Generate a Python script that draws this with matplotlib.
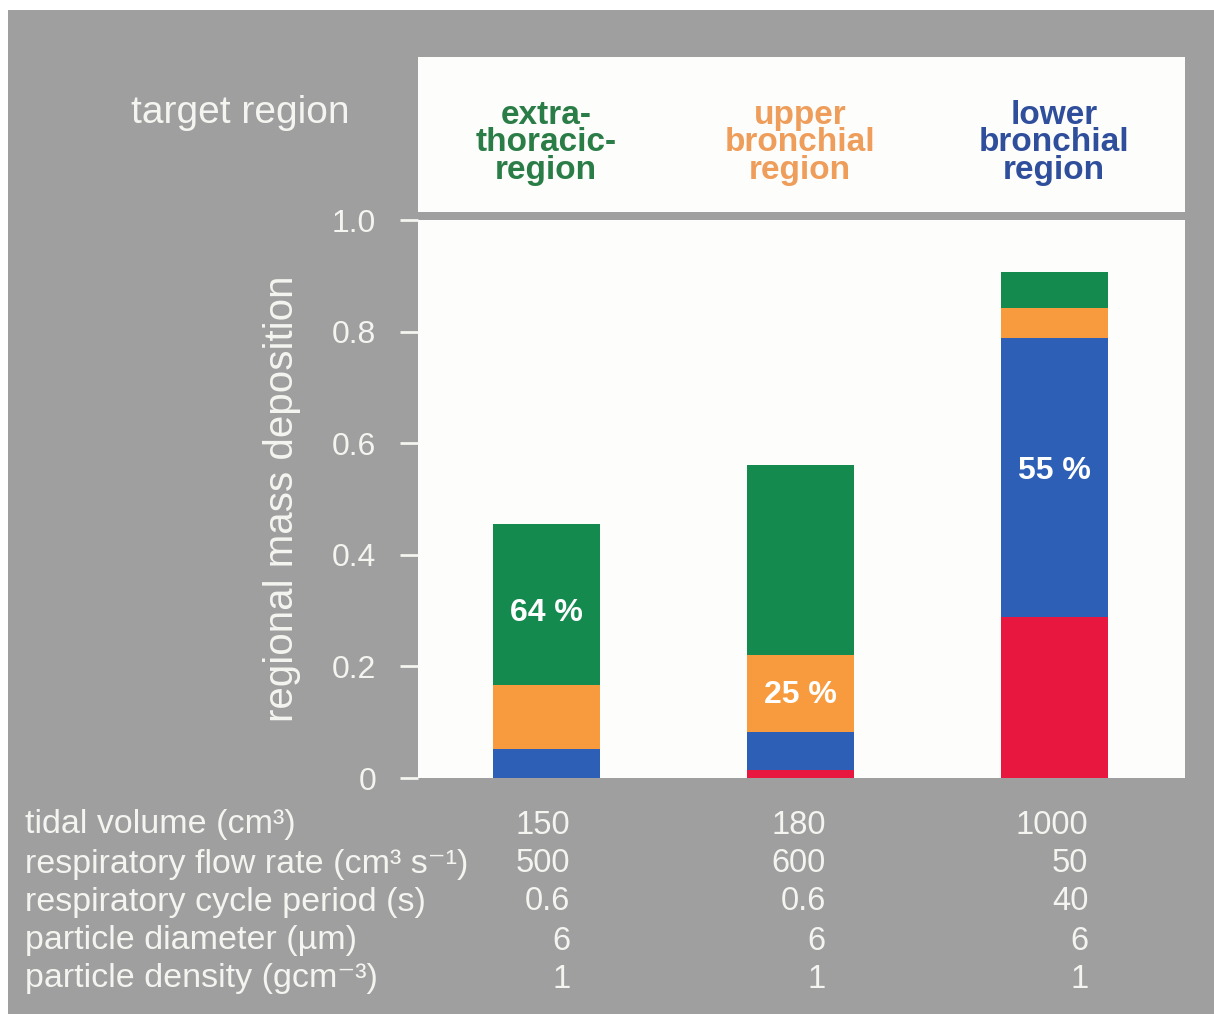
import matplotlib.pyplot as plt
from matplotlib.patches import Rectangle
from matplotlib.transforms import blended_transform_factory

plt.rcParams['font.family'] = ['Liberation Sans', 'DejaVu Sans']

# stacked deposition per target region (bottom to top)
regions = ['extra-\nthoracic-\nregion', 'upper\nbronchial\nregion', 'lower\nbronchial\nregion']
region_colors = ['#2a7d46', '#ee9d5a', '#2f4f9c']
red_part = [0.0, 0.015, 0.288]
blue_part = [0.052, 0.068, 0.500]
orange_part = [0.114, 0.138, 0.054]
green_part = [0.289, 0.340, 0.064]
pct_labels = ['64 %', '25 %', '55 %']
pct_y = [0.295, 0.148, 0.55]

row_labels = ['tidal volume (cm³)', 'respiratory flow rate (cm³ s⁻¹)',
              'respiratory cycle period (s)', 'particle diameter (µm)',
              'particle density (gcm⁻³)']
col_values = [['150', '500', '0.6', '6', '1'],
              ['180', '600', '0.6', '6', '1'],
              ['1000', '50', '40', '6', '1']]

gray = '#9f9f9f'
white_txt = '#f4f4f0'
W, H = 1214, 1014

fig = plt.figure(figsize=(W / 100, H / 100), dpi=100, facecolor='white')
# grey card (thin white border top/left like the scan)
fig.patches.append(Rectangle((8 / W, 0), 1, 1 - 10 / H, transform=fig.transFigure,
                             facecolor=gray, edgecolor='none', zorder=-10))
# white header panel
fig.patches.append(Rectangle((418 / W, 1 - 212 / H), 767 / W, 155 / H, transform=fig.transFigure,
                             facecolor='#fdfdfb', edgecolor='none', zorder=-5))

ax = fig.add_axes([418 / W, 1 - 778 / H, 767 / W, 558 / H])
ax.set_facecolor('#fdfdfb')
x = [0, 1, 2]
w = 0.42
b1 = red_part
b2 = [r + bl for r, bl in zip(red_part, blue_part)]
b3 = [a + o for a, o in zip(b2, orange_part)]
ax.bar(x, red_part, w, color='#e8173f')
ax.bar(x, blue_part, w, bottom=b1, color='#2c5fb5')
ax.bar(x, orange_part, w, bottom=b2, color='#f89b3e')
ax.bar(x, green_part, w, bottom=b3, color='#148a4f')

for xi, lab, yy in zip(x, pct_labels, pct_y):
    ax.text(xi, yy, lab, ha='center', va='center', color='white',
            fontsize=23, fontweight='bold')

ax.set_xlim(-0.505, 2.515)
ax.set_ylim(0, 1.0)
ax.set_xticks([])
ax.set_yticks([0, 0.2, 0.4, 0.6, 0.8, 1.0])
ax.set_yticklabels(['0', '0.2', '0.4', '0.6', '0.8', '1.0'])
ax.tick_params(axis='y', colors=white_txt, length=13, width=2, labelsize=23, pad=17)
for s in ax.spines.values():
    s.set_visible(False)
ax.set_ylabel('regional mass deposition', color=white_txt, fontsize=29, labelpad=22)

# header texts
fig.text(240 / W, 1 - 113 / H, 'target region', ha='center', va='center',
         color=white_txt, fontsize=28)
trans = blended_transform_factory(ax.transData, fig.transFigure)
for xi, lab, c in zip(x, regions, region_colors):
    ax.text(xi, 1 - 143 / H, lab, transform=trans, ha='center', va='center',
            color=c, fontsize=24, fontweight='bold', linespacing=0.86)

# parameter table below the plot
row_y = [825, 864, 902, 941, 979]
col_right = [0.095, 0.1, 0.135]
for ry, lab in zip(row_y, row_labels):
    fig.text(25 / W, 1 - ry / H, lab, ha='left', va='center', color=white_txt, fontsize=24.5)
for xi, vals, off in zip(x, col_values, col_right):
    for ry, v in zip(row_y, vals):
        ax.text(xi + off, 1 - ry / H, v, transform=trans, ha='right', va='center',
                color=white_txt, fontsize=23.5)

fig.savefig('out.png', dpi=100, facecolor=fig.get_facecolor())
